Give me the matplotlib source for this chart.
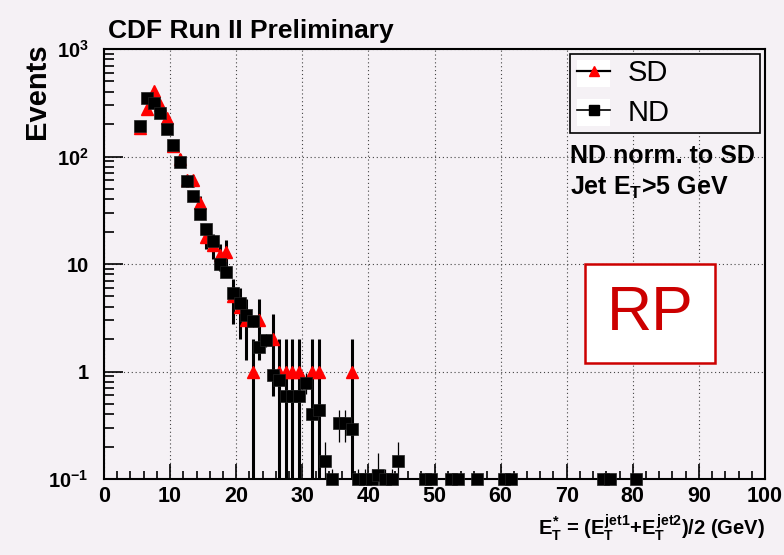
import numpy as np
import matplotlib
matplotlib.use("Agg")
import matplotlib.pyplot as plt
from matplotlib.lines import Line2D
from matplotlib.patches import Rectangle
from matplotlib.ticker import FixedLocator, FixedFormatter, MultipleLocator, LogLocator, NullFormatter

plt.rcParams["font.family"] = ["Liberation Sans", "DejaVu Sans"]
plt.rcParams["mathtext.fontset"] = "custom"
plt.rcParams["mathtext.rm"] = "Liberation Sans:bold"
plt.rcParams["mathtext.it"] = "Liberation Sans:bold"
plt.rcParams["mathtext.bf"] = "Liberation Sans:bold"

BG = "#f5f1f5"

# SD: raw counts per 1 GeV bin
sd_x = [5.5, 6.5, 7.5, 8.5, 9.5, 10.5, 11.5, 12.5, 13.5, 14.5, 15.5, 16.5, 17.5,
        18.5, 19.5, 20.5, 21.5, 22.5, 23.5, 25.5, 26.5, 27.5, 28.5, 29.5, 31.5,
        32.5, 37.5]
sd_y = [185, 275, 410, 300, 230, 125, 95, 60, 60, 37, 18, 15, 12,
        13, 5, 4, 3, 1, 3, 2, 1, 1, 1, 1, 1,
        1, 1]

# ND: normalised to SD
ND_SCALE = 0.0367
nd_x = [5.5, 6.5, 7.5, 8.5, 9.5, 10.5, 11.5, 12.5, 13.5, 14.5, 15.5, 16.5, 17.5,
        18.5, 19.5, 20.5, 21.5, 22.5, 23.5, 24.5, 25.5, 26.5, 27.5, 28.5, 29.5,
        30.5, 31.5, 32.5, 33.5, 34.5, 35.5, 36.5, 37.5, 38.5, 39.5, 40.5, 41.5,
        42.5, 43.5, 44.5, 48.5, 49.5, 52.5, 53.5, 56.5, 60.5, 61.5, 75.5, 76.5,
        80.5]
nd_y = [192, 348, 313, 256, 180, 128, 89.5, 59.6, 43.2, 29.2, 21.3, 16.5, 10.0,
        8.5, 5.4, 4.3, 3.35, 2.95, 1.7, 1.95, 0.92, 0.83, 0.59, 0.59, 0.59,
        0.79, 0.40, 0.44, 0.147, 0.073, 0.33, 0.33, 0.29, 0.073, 0.073, 0.073, 0.11,
        0.073, 0.073, 0.147, 0.037, 0.037, 0.037, 0.037, 0.037, 0.037, 0.037, 0.037, 0.037,
        0.037]

x_ticks = list(range(0, 101, 10))
y_ticks = [0.1, 1, 10, 100, 1000]
y_labels = [r"$10^{-1}$", "1", "10", r"$10^{2}$", r"$10^{3}$"]

YMIN, YMAX = 0.1, 1000


def ax_box(x0, y0, x1, y1):
    # pixel box (top-left origin) -> axes coords
    return ((x0 - 104) / 661, (479 - y1) / 430), (x1 - x0) / 661, (y1 - y0) / 430


def main():
    fig = plt.figure(figsize=(7.84, 5.55), dpi=100, facecolor=BG)
    ax = fig.add_axes([104 / 784, 1 - 479 / 555, 661 / 784, 430 / 555])
    ax.set_facecolor(BG)
    ax.set_yscale("log")
    ax.set_xlim(0, 100)
    ax.set_ylim(YMIN, YMAX)

    sdx = np.array(sd_x)
    sdy = np.array(sd_y, dtype=float)
    sde = np.sqrt(sdy)
    ndx = np.array(nd_x)
    ndy = np.array(nd_y)
    nde = np.sqrt(ndy * ND_SCALE)

    # SD
    ax.vlines(sdx, np.maximum(sdy - sde, YMIN * 0.5), sdy + sde, color="black", lw=2.2, zorder=2)
    ax.plot(sdx, sdy, ls="none", marker="^", ms=8, color="red", mec="red", zorder=3)

    # ND
    ax.vlines(ndx, np.maximum(ndy - nde, YMIN), ndy + nde, color="black", lw=0.9, zorder=4)
    ax.plot(ndx, np.maximum(ndy, YMIN), ls="none", marker="s", ms=9, color="black",
            mec="#222222", mew=0.5, zorder=5, clip_on=False)

    # axes styling
    for s in ax.spines.values():
        s.set_linewidth(1.5)
    ax.xaxis.set_major_locator(FixedLocator(x_ticks))
    ax.xaxis.set_minor_locator(MultipleLocator(2))
    ax.yaxis.set_major_locator(FixedLocator(y_ticks))
    ax.yaxis.set_major_formatter(FixedFormatter(y_labels))
    ax.yaxis.set_minor_locator(LogLocator(base=10, subs=np.arange(2, 10)))
    ax.yaxis.set_minor_formatter(NullFormatter())
    ax.tick_params(which="both", direction="in", top=False, right=False, width=1.2)
    ax.xaxis.set_tick_params(which="major", length=10.5, pad=5)
    ax.xaxis.set_tick_params(which="minor", length=5.5)
    ax.yaxis.set_tick_params(which="major", length=14, pad=11)
    ax.yaxis.set_tick_params(which="minor", length=7)
    for lab in ax.get_xticklabels():
        lab.set_fontweight("bold")
        lab.set_fontsize(15.5)
    for lab in ax.get_yticklabels():
        lab.set_fontweight("bold")
        lab.set_fontsize(14.5)
    ax.grid(True, which="major", ls=(0, (1, 2.5)), color="#444444", lw=0.8)

    # legend: ROOT-style box with white marker backgrounds
    xy, w, h = ax_box(570, 54, 760, 133)
    ax.add_patch(Rectangle(xy, w, h, transform=ax.transAxes, facecolor=BG,
                           edgecolor="black", lw=1.2, zorder=8))
    for y0, y1 in [(60, 87), (99, 126)]:
        xy, w, h = ax_box(577, y0, 610, y1)
        ax.add_patch(Rectangle(xy, w, h, transform=ax.transAxes, facecolor="white",
                               edgecolor="none", zorder=9))
    handles = [
        Line2D([], [], color="black", lw=1.6, marker="^", ms=7, mfc="red", mec="red"),
        Line2D([], [], color="black", lw=1.2, marker="s", ms=7, mfc="black", mec="black"),
    ]
    leg = ax.legend(handles, ["SD", "ND"], loc="upper left",
                    bbox_to_anchor=((577 - 104) / 661, (479 - 59) / 430), borderaxespad=0,
                    fontsize=21, frameon=False, handlelength=1.14, borderpad=0,
                    labelspacing=0.4, handletextpad=0.59)
    leg.set_zorder(10)

    ax.text(0.705, 0.735, "ND norm. to SD", transform=ax.transAxes,
            fontsize=18, fontweight="bold", va="baseline", zorder=10)
    ax.text(0.705, 0.662, r"Jet E$_{T}$>5 GeV", transform=ax.transAxes,
            fontsize=18, fontweight="bold", va="baseline", zorder=10)

    # RP box
    xy, w, h = ax_box(585, 264, 715, 363)
    ax.add_patch(Rectangle(xy, w, h, transform=ax.transAxes,
                           facecolor="white", edgecolor="#cc0000", lw=1.8, zorder=10))
    ax.text(0.826, 0.384, "RP", transform=ax.transAxes, color="#cc0000",
            fontsize=45, ha="center", va="center", zorder=11)

    fig.text(108 / 784, 1 - 38 / 555, "CDF Run II Preliminary", fontsize=19,
             fontweight="bold", va="baseline")
    fig.text(37 / 784, 1 - 91 / 555, "Events", fontsize=21, fontweight="bold",
             rotation=90, ha="center", va="center")
    fig.text(765 / 784, 1 - 535 / 555,
             r"$E_{T}^{*}$ = ($E_{T}^{jet1}$+$E_{T}^{jet2}$)/2 (GeV)",
             fontsize=14.5, fontweight="bold", ha="right", va="baseline")

    fig.savefig("out.png", dpi=100, facecolor=BG)


if __name__ == "__main__":
    main()
